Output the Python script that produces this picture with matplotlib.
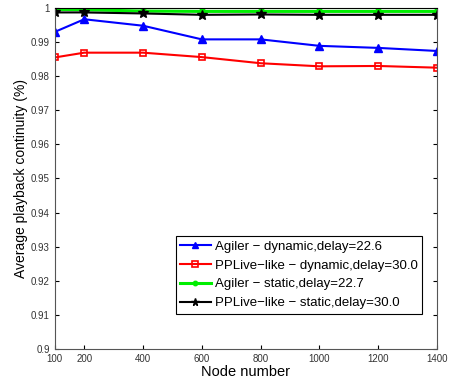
import matplotlib
matplotlib.use('Agg')
import matplotlib.pyplot as plt

nodes = [100, 200, 400, 600, 800, 1000, 1200, 1400]
agiler_dyn = [0.9930, 0.9967, 0.9948, 0.9908, 0.9908, 0.9889, 0.9883, 0.9874]
pplive_dyn = [0.9855, 0.9869, 0.9869, 0.9856, 0.9838, 0.9829, 0.9830, 0.9825]
agiler_static = [0.9996, 0.9995, 0.9991, 0.9990, 0.9990, 0.9990, 0.9990, 0.9990]
pplive_static = [0.9987, 0.9987, 0.9984, 0.9980, 0.9981, 0.9980, 0.9980, 0.9980]
labels = ['Agiler \u2212 dynamic,delay=22.6', 'PPLive\u2212like \u2212 dynamic,delay=30.0',
          'Agiler \u2212 static,delay=22.7', 'PPLive\u2212like \u2212 static,delay=30.0']
yticks = [0.9, 0.91, 0.92, 0.93, 0.94, 0.95, 0.96, 0.97, 0.98, 0.99, 1.0]
yticklabels = ['0.9', '0.91', '0.92', '0.93', '0.94', '0.95', '0.96', '0.97', '0.98', '0.99', '1']

plt.rcParams['font.family'] = ['Liberation Sans', 'DejaVu Sans']
fig = plt.figure(figsize=(4.61, 3.81), dpi=100)
ax = fig.add_axes([0.119, 0.084, 0.829, 0.895])

ax.plot(nodes, agiler_dyn, color='#0000ff', marker='^', ms=6, lw=1.5, label=labels[0])
ax.plot(nodes, pplive_dyn, color='#ff0000', marker='s', ms=5, mfc='none', mew=1.2, lw=1.5, label=labels[1])
ax.plot(nodes, agiler_static, color='#00ee00', marker='o', ms=4, lw=2.2, label=labels[2])
ax.plot(nodes, pplive_static, color='black', marker='*', ms=7, lw=1.5, label=labels[3])

ax.set_xlim(100, 1400)
ax.set_ylim(0.9, 1.0)
ax.set_xticks(nodes)
ax.set_yticks(yticks)
ax.set_yticklabels(yticklabels)
ax.tick_params(direction='in', labelsize=7, labelcolor='#333333', top=True, right=True, length=3)
for s in ax.spines.values():
    s.set_color('#555555')
ax.spines['top'].set_color('black')
ax.set_xlabel('Node number', fontsize=10.5, labelpad=1)
ax.set_ylabel('Average playback continuity (%)', fontsize=10, labelpad=2)

leg = ax.legend(loc='lower right', bbox_to_anchor=(0.961, 0.103), borderaxespad=0, fontsize=9.5,
                fancybox=False, edgecolor='black', framealpha=1, handlelength=2.3, borderpad=0.35,
                labelspacing=0.5, handletextpad=0.3, markerscale=0.8)
leg.get_frame().set_linewidth(0.8)

fig.savefig('out.png', dpi=100)
